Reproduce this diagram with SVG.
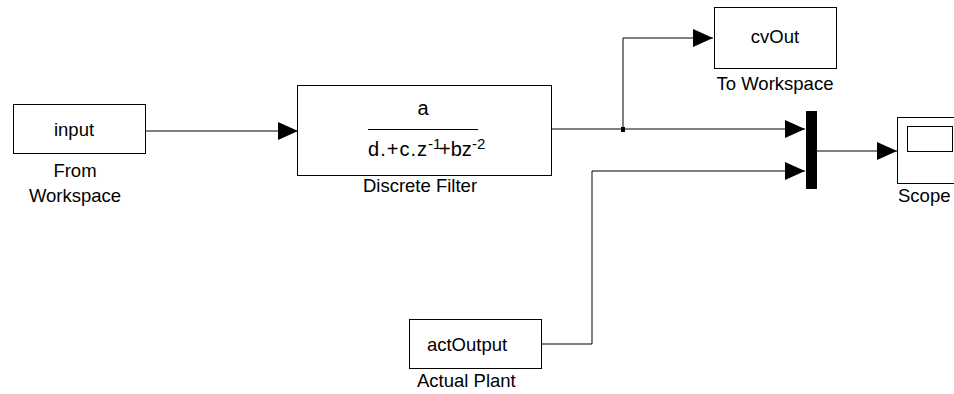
<svg xmlns="http://www.w3.org/2000/svg" width="954" height="394" viewBox="0 0 954 394">
  <style>
    .blk { fill: #ffffff; stroke: #000000; stroke-width: 1; }
    .txt { font-family: "Liberation Sans", Arial, sans-serif; font-size: 18.5px; fill: #000000; }
    .mid { text-anchor: middle; }
    .eq { font-size: 20px; }
    .sup { font-size: 15px; }
    .wire { fill: none; stroke: #000000; stroke-width: 1; }
  </style>
  <defs>
    <marker id="arrow" viewBox="0 0 20 18" refX="20" refY="9" markerWidth="20" markerHeight="18" markerUnits="userSpaceOnUse" orient="auto">
      <path d="M0,0 L20,9 L0,18 Z" fill="#000000"/>
    </marker>
  </defs>
  <rect width="954" height="394" fill="#ffffff"/>

  <!-- signal lines -->
  <g id="connectors">
    <path class="wire" d="M145,131 H298" marker-end="url(#arrow)"/>
    <path class="wire" d="M551,129 H805" marker-end="url(#arrow)"/>
    <path class="wire" d="M623,129 V38 H713" marker-end="url(#arrow)"/>
    <rect x="621" y="127" width="4" height="5" fill="#000000"/>
    <path class="wire" d="M542,344 H592 V171 H805" marker-end="url(#arrow)"/>
    <path class="wire" d="M817,151 H897" marker-end="url(#arrow)"/>
  </g>

  <g id="from-workspace">
    <rect class="blk" x="13.5" y="104.5" width="132" height="49"/>
    <text class="txt mid" x="74" y="136">input</text>
    <text class="txt mid" x="75" y="177">From</text>
    <text class="txt mid" x="75" y="202">Workspace</text>
  </g>

  <g id="discrete-filter">
    <rect class="blk" x="297.5" y="85.5" width="254" height="90"/>
    <text class="txt eq mid" x="423" y="115">a</text>
    <line x1="368" y1="129.5" x2="478" y2="129.5" stroke="#000000" stroke-width="1"/>
    <text class="txt eq" x="368" y="156" textLength="59" lengthAdjust="spacing">d.+c.z</text>
    <text class="txt sup" x="428" y="149">-1</text>
    <text class="txt eq" x="439" y="156">+bz</text>
    <text class="txt sup" x="472" y="149">-2</text>
    <text class="txt mid" x="420" y="192">Discrete Filter</text>
  </g>

  <g id="to-workspace">
    <rect class="blk" x="714.5" y="7.5" width="122" height="61"/>
    <text class="txt mid" x="775" y="43">cvOut</text>
    <text class="txt mid" x="775" y="90">To Workspace</text>
  </g>

  <g id="mux">
    <rect x="806" y="111" width="11" height="78" fill="#000000"/>
  </g>

  <g id="scope">
    <rect class="blk" x="897.5" y="117.5" width="70" height="66"/>
    <rect class="blk" x="907.5" y="126.5" width="45" height="25"/>
    <text class="txt" x="898" y="202">Scope</text>
  </g>

  <g id="actual-plant">
    <rect class="blk" x="409.5" y="319.5" width="132" height="49"/>
    <text class="txt mid" x="467" y="351">actOutput</text>
    <text class="txt" x="417" y="387">Actual Plant</text>
  </g>
</svg>
